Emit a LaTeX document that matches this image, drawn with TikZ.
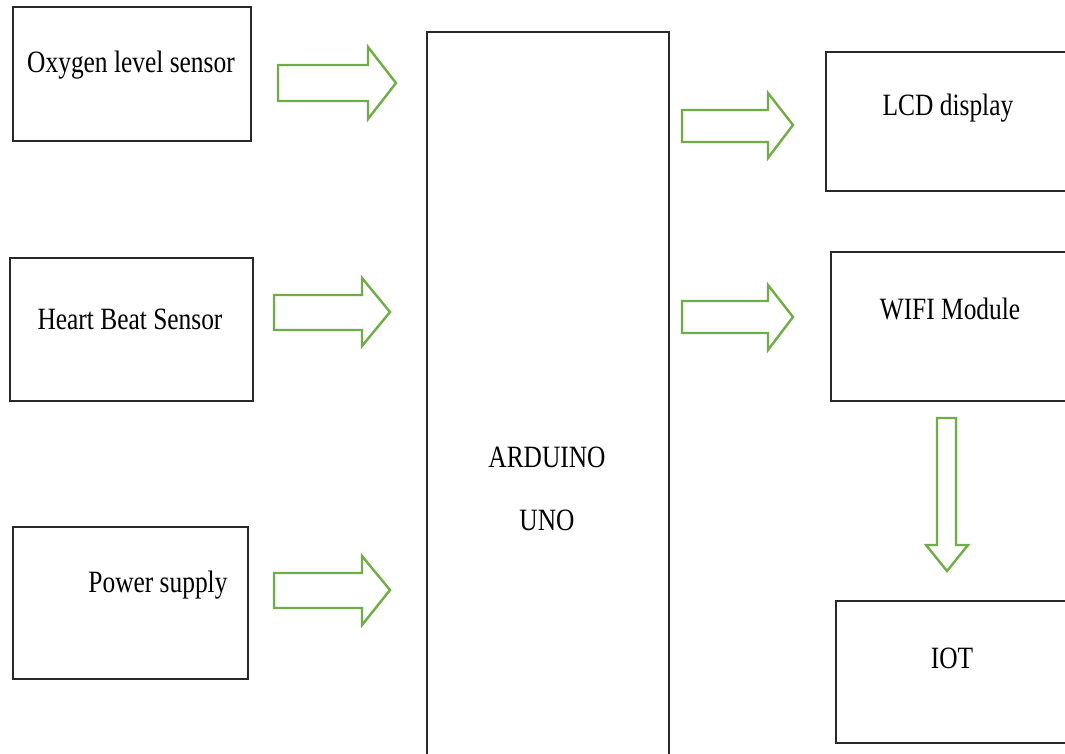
\documentclass[tikz,border=0pt]{standalone}
\usepackage{fontspec}
\setmainfont{Liberation Serif}
\newfontfamily\condserif[FakeStretch=0.82]{Liberation Serif}
\definecolor{arrgreen}{RGB}{112,173,71}
\definecolor{boxline}{RGB}{40,40,40}
\begin{document}
\begin{tikzpicture}[x=1pt,y=-1pt,
  blk/.style={draw=boxline,line width=1.4pt,fill=white},
  lbl/.style={font=\condserif\fontsize{31}{36}\selectfont,text=black,inner sep=0pt},
  garrow/.style={draw=arrgreen,line width=2.4pt,line join=miter,fill=white}]
\useasboundingbox (0,0) rectangle (1065,753);
\clip (0,0) rectangle (1065,753);
% boxes
\draw[blk] (13,7) rectangle (251,141);
\draw[blk] (10,258) rectangle (253,401);
\draw[blk] (13,527) rectangle (248,679);
\draw[blk] (427,32) rectangle (669,790);
\draw[blk] (826,52) rectangle (1080,191);
\draw[blk] (831,252) rectangle (1080,401);
\draw[blk] (836,601) rectangle (1080,743);
% labels
\node[lbl] (oxy) at (131,65) {Oxygen level sensor};
\node[lbl] (hb) at (130,319) {Heart Beat Sensor};
\node[lbl] (ps) at (158,585) {Power supply};
\node[lbl] (ard1) at (547,457) {ARDUINO};
\node[lbl] (ard2) at (547,520) {UNO};
\node[lbl] (lcd) at (948,108) {LCD display};
\node[lbl] (wifi) at (950,309) {WIFI Module};
\node[lbl] (iot) at (952,658) {IOT};
% block arrows (right)
\draw[garrow] (278,65) -- (368,65) -- (368,47) -- (396,83) -- (368,119) -- (368,101) -- (278,101) -- cycle;
\draw[garrow] (274,295) -- (362,295) -- (362,278) -- (390,312) -- (362,346) -- (362,330) -- (274,330) -- cycle;
\draw[garrow] (274,573) -- (362,573) -- (362,556) -- (390,590) -- (362,625) -- (362,608) -- (274,608) -- cycle;
\draw[garrow] (682,110) -- (768,110) -- (768,93) -- (793,125) -- (768,158) -- (768,142) -- (682,142) -- cycle;
\draw[garrow] (682,301) -- (768,301) -- (768,285) -- (793,317) -- (768,350) -- (768,333) -- (682,333) -- cycle;
% block arrow (down)
\draw[garrow] (937,418) -- (956,418) -- (956,545) -- (968,545) -- (947,571) -- (926,545) -- (937,545) -- cycle;
\end{tikzpicture}
\end{document}
